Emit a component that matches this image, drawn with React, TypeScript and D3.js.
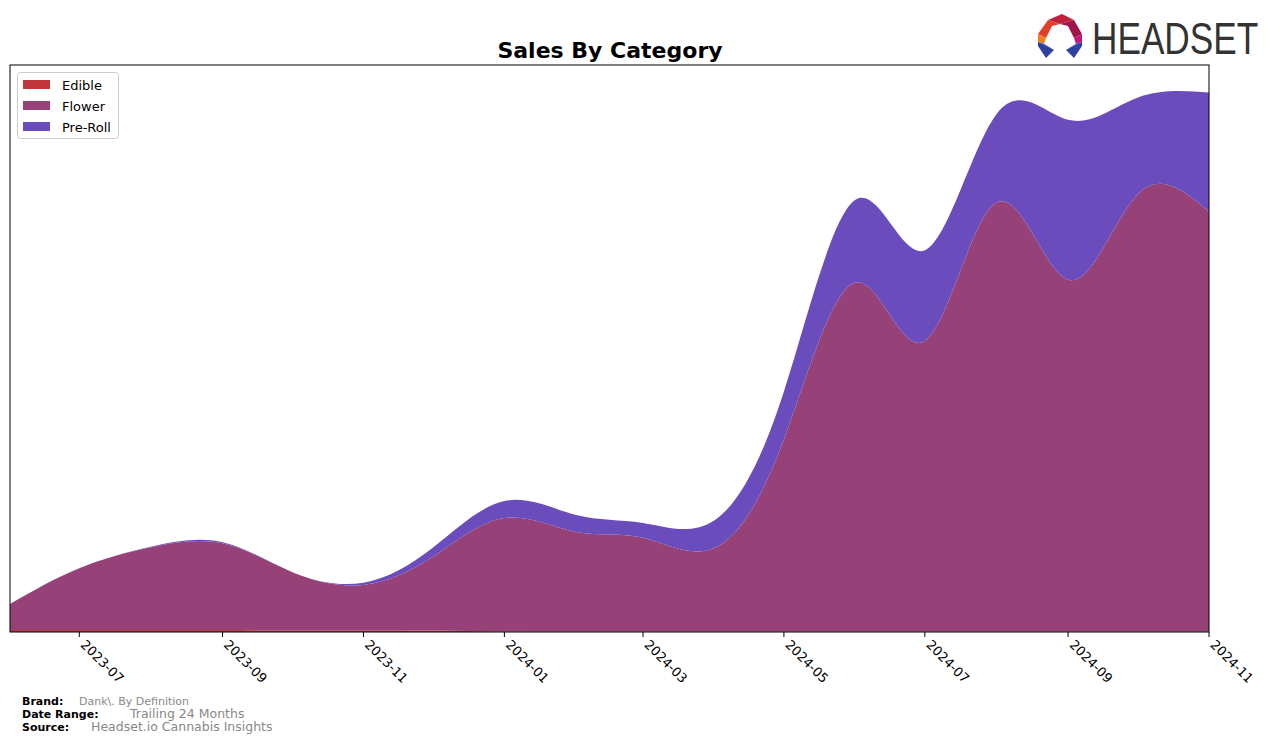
import React from "react";
import * as d3 from "d3";

const months = [
  "2023-06", "2023-07", "2023-08", "2023-09", "2023-10", "2023-11", "2023-12",
  "2024-01", "2024-02", "2024-03", "2024-04", "2024-05", "2024-06", "2024-07",
  "2024-08", "2024-09", "2024-10", "2024-11",
];
const edible = [3.5, 3.5, 3.5, 3.5, 3, 3, 2.5, 1, 0.5, 0.3, 0.3, 0.3, 0.3, 0.3, 0.3, 0.3, 0.3, 0.3];
const flower = [46, 109, 146, 153, 103, 80, 130, 200, 176, 166, 148, 339, 616, 513, 757, 621, 771, 741];
const preRoll = [0, 0, 1, 2, 0, 4, 16, 30, 30, 26, 49, 85, 146, 160, 156, 282, 171, 210];
const seriesNames = ["Edible", "Flower", "Pre-Roll"];
const seriesColors = ["#c0363b", "#964279", "#6a4cbd"];
const tickLabels = ["2023-07", "2023-09", "2023-11", "2024-01", "2024-03", "2024-05", "2024-07", "2024-09", "2024-11"];

const W = 1276, H = 743;
const L = 10, R = 1209, T = 65, B = 632;

export default function App() {
  const parse = d3.timeParse("%Y-%m");
  const dates = months.map((m) => parse(m) as Date);
  const x = d3.scaleTime().domain([dates[0], dates[dates.length - 1]]).range([L, R]);
  const y = d3.scaleLinear().domain([0, 1000]).range([B, T]);
  const rows = months.map((m, i) => ({ i, Edible: edible[i], Flower: flower[i], "Pre-Roll": preRoll[i] }));
  const stack = d3.stack<any>().keys(seriesNames)(rows);
  const area = d3
    .area<any>()
    .x((d) => x(dates[d.data.i]))
    .y0((d) => y(d[0]))
    .y1((d) => y(d[1]))
    .curve(d3.curveNatural);
  const font = "DejaVu Sans, sans-serif";
  return (
    <svg width={W} height={H} style={{ position: "absolute", left: 0, top: 0 }} fontFamily={font}>
      <rect width={W} height={H} fill="#fff" />
      <defs>
        <clipPath id="plot">
          <rect x={L} y={T} width={R - L} height={B - T} />
        </clipPath>
      </defs>
      <g clipPath="url(#plot)">
        {stack.map((s, k) => (
          <path key={s.key} d={area(s) || ""} fill={seriesColors[k]} />
        ))}
      </g>
      <rect x={L} y={T} width={R - L} height={B - T} fill="none" stroke="#000" strokeWidth={1} />
      {tickLabels.map((t) => {
        const xx = x(parse(t) as Date);
        return (
          <g key={t} transform={`translate(${xx},${B})`}>
            <line y1={0} y2={5} stroke="#000" />
            <text transform="translate(7,7) rotate(45)" fontSize={13} dy="0.7em" fill="#000">
              {t}
            </text>
          </g>
        );
      })}
      <text x={610} y={58} textAnchor="middle" fontSize={22} fontWeight="bold">
        Sales By Category
      </text>
      <g>
        <rect x={17.5} y={72.5} width={101} height={66} rx={3} fill="#fff" stroke="#ccc" />
        {seriesNames.map((n, k) => (
          <g key={n} transform={`translate(0,${85 + k * 21})`}>
            <rect x={23} y={-5} width={27} height={9} fill={seriesColors[k]} />
            <text x={62} y={5} fontSize={13}>
              {n}
            </text>
          </g>
        ))}
      </g>
      <g fontSize={11}>
        <text x={22} y={705} fontWeight="bold">Brand:</text>
        <text x={79} y={705} fill="#888">Dank\. By Definition</text>
        <text x={22} y={718} fontWeight="bold">Date Range:</text>
        <text x={130} y={718} fill="#888" fontSize={12.5}>Trailing 24 Months</text>
        <text x={22} y={731} fontWeight="bold">Source:</text>
        <text x={91} y={731} fill="#888" fontSize={12.5}>Headset.io Cannabis Insights</text>
      </g>
      <g transform="translate(1038,14)">
        <polygon points="24,0 36,6 22,10 10,6" fill="#c0203a" />
        <polygon points="36,6 44,20 36,24 30,12 22,10" fill="#a0144a" />
        <polygon points="10,6 22,10 14,12 8,24 0,20" fill="#e0402a" />
        <polygon points="0,20 8,24 6,30 0,28" fill="#f08020" />
        <polygon points="44,20 44,28 38,30 36,24" fill="#c01880" />
        <polygon points="0,28 6,30 16,36 8,44 0,32" fill="#3040a0" />
        <polygon points="44,28 38,30 28,36 36,44 44,32" fill="#3040a0" />
        <polygon points="0,28 16,36 6,30" fill="#6070d0" />
        <polygon points="44,28 28,36 38,30" fill="#6070d0" />
        <g transform="translate(54,40) scale(0.8,1)">
          <text x={0} y={0} fontSize={44} fill="#333" fontFamily="Liberation Sans, sans-serif">
            HEADSET
          </text>
        </g>
      </g>
    </svg>
  );
}
